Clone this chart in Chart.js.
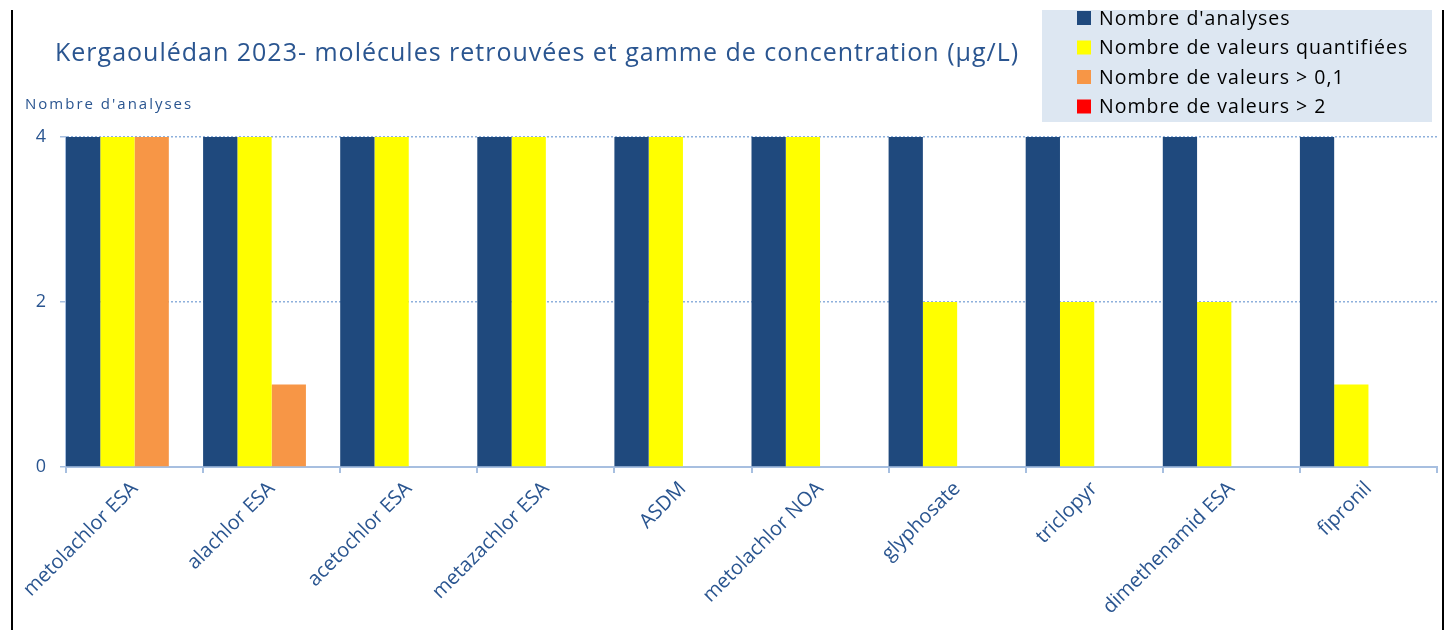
<!DOCTYPE html>
<html>
<head>
<meta charset="utf-8">
<script src="https://cdn.jsdelivr.net/npm/chart.js@4/dist/chart.umd.min.js"></script>
<style>
  body { margin: 0; background: #fff; }
  #wrap { width: 1448px; height: 630px; position: relative; }
</style>
</head>
<body>
<div id="wrap"><canvas id="chart"></canvas></div>
<script>
// Data
const categories = ['metolachlor ESA', 'alachlor ESA', 'acetochlor ESA', 'metazachlor ESA', 'ASDM',
  'metolachlor NOA', 'glyphosate', 'triclopyr', 'dimethenamid ESA', 'fipronil'];
const nbAnalyses = [4, 4, 4, 4, 4, 4, 4, 4, 4, 4];
const nbQuantifiees = [4, 4, 4, 4, 4, 4, 2, 2, 2, 1];
const nbSup01 = [4, 1, 0, 0, 0, 0, 0, 0, 0, 0];
const nbSup2 = [0, 0, 0, 0, 0, 0, 0, 0, 0, 0];
const yTicks = [0, 2, 4];

const titleText = 'Kergaoulédan 2023- molécules retrouvées et gamme de concentration (µg/L)';
const yTitle = "Nombre d'analyses";
const FONT = '"Open Sans"';
const blueText = '#2a5590';
const axisBlue = '#a7bfe0';

// Title, axis title, legend box and the frame lines
const decorPlugin = {
  id: 'decor',
  afterDraw(chart) {
    const ctx = chart.ctx;
    ctx.save();

    // frame
    ctx.strokeStyle = '#000';
    ctx.lineWidth = 2;
    ctx.beginPath();
    ctx.moveTo(12, 10); ctx.lineTo(12, 630);
    ctx.moveTo(1443, 10); ctx.lineTo(1443, 630);
    ctx.stroke();

    // title
    ctx.textBaseline = 'middle';
    ctx.textAlign = 'left';
    ctx.fillStyle = blueText;
    ctx.letterSpacing = '1px';
    ctx.font = '25px ' + FONT;
    ctx.fillText(titleText, 55, 54);

    // y axis title
    ctx.letterSpacing = '2px';
    ctx.font = '15px ' + FONT;
    ctx.fillText(yTitle, 25, 105);

    // legend
    ctx.letterSpacing = '1px';
    ctx.fillStyle = '#dde7f2';
    ctx.fillRect(1042, 10, 390, 112);
    ctx.font = '19.5px ' + FONT;
    chart.data.datasets.forEach((ds, i) => {
      const y = 18 + i * 29.5;
      ctx.fillStyle = ds.backgroundColor;
      ctx.fillRect(1077, y - 7, 14, 14);
      ctx.fillStyle = '#000';
      ctx.fillText(ds.label, 1099, y + 1);
    });
    ctx.letterSpacing = '0px';
    ctx.restore();
  }
};

const ctx = document.getElementById('chart').getContext('2d');
new Chart(ctx, {
  type: 'bar',
  data: {
    labels: categories,
    datasets: [
      { label: "Nombre d'analyses", data: nbAnalyses, backgroundColor: '#1f497d' },
      { label: 'Nombre de valeurs quantifiées', data: nbQuantifiees, backgroundColor: '#ffff00' },
      { label: 'Nombre de valeurs > 0,1', data: nbSup01, backgroundColor: '#f79646' },
      { label: 'Nombre de valeurs > 2', data: nbSup2, backgroundColor: '#ff0000' }
    ]
  },
  options: {
    responsive: true,
    maintainAspectRatio: false,
    animation: false,
    datasets: {
      bar: { barPercentage: 1, categoryPercentage: 1, inflateAmount: 0 }
    },
    layout: { padding: { top: 137, right: 11, bottom: 0, left: 0 } },
    plugins: {
      legend: { display: false },
      title: { display: false },
      tooltip: { enabled: false }
    },
    scales: {
      x: {
        grid: { drawOnChartArea: false, drawTicks: true, tickLength: 6, color: axisBlue, lineWidth: 2 },
        border: { color: axisBlue, width: 2 },
        ticks: {
          color: blueText,
          font: { family: FONT, size: 20 },
          minRotation: 45,
          maxRotation: 45,
          padding: 4
        },
        afterFit(scale) { scale.height = 163; }
      },
      y: {
        min: 0,
        max: 4,
        afterBuildTicks(scale) { scale.ticks = yTicks.map(v => ({ value: v })); },
        grid: {
          color: c => (c.tick && c.tick.value === 0 ? 'rgba(0,0,0,0)' : '#8eb0dc'),
          tickColor: axisBlue,
          lineWidth: 1.5,
          tickLength: 6
        },
        border: { color: axisBlue, width: 2, dash: [2, 2] },
        ticks: {
          color: blueText,
          font: { family: FONT, size: 18 },
          padding: 14
        },
        afterFit(scale) { scale.width = 66; }
      }
    }
  },
  plugins: [decorPlugin]
});
</script>
</body>
</html>
